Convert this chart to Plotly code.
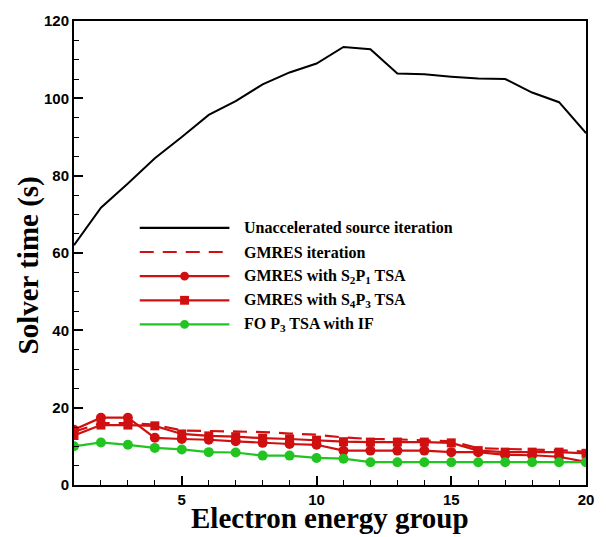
import plotly.graph_objects as go

groups = list(range(1, 21))
unaccelerated = [62.0, 71.7, 78.0, 84.5, 90.0, 95.7, 99.3, 103.6, 106.7, 109.0,
                 113.3, 112.7, 106.4, 106.2, 105.6, 105.1, 105.0, 101.5, 99.0, 91.0]
gmres_iter = [13.8, 16.0, 16.0, 15.6, 14.1, 14.0, 13.9, 13.7, 13.3, 13.0,
              12.3, 11.9, 11.8, 11.6, 11.3, 9.5, 9.3, 9.2, 9.0, 8.6]
gmres_s2p1 = [14.3, 17.4, 17.4, 12.2, 11.9, 11.7, 11.3, 10.9, 10.6, 10.4,
              8.9, 8.9, 8.9, 8.9, 8.5, 8.5, 7.8, 7.7, 7.3, 6.0]
gmres_s4p3 = [12.8, 15.5, 15.5, 15.3, 13.2, 12.7, 12.5, 12.1, 11.9, 11.6,
              11.2, 11.1, 11.1, 11.1, 10.9, 8.9, 8.5, 8.5, 8.5, 8.2]
fo_p3_if = [10.0, 11.0, 10.4, 9.6, 9.2, 8.5, 8.4, 7.6, 7.6, 7.0,
            6.8, 5.9, 5.9, 5.9, 5.9, 5.9, 5.9, 5.9, 5.9, 5.9]

legend_labels = ["Unaccelerated source iteration",
                 "GMRES iteration",
                 "GMRES with S<sub>2</sub>P<sub>1</sub> TSA",
                 "GMRES with S<sub>4</sub>P<sub>3</sub> TSA",
                 "FO P<sub>3</sub> TSA with IF"]

RED = "#d01010"
GREEN = "#22c422"
BLACK = "#000000"

W, H = 606, 537
L, R, T, B = 74, 18, 14, 52
PW, PH = W - L - R, H - T - B


def px(x):
    return (x - L) / PW


def py(y):
    return (H - B - y) / PH


fig = go.Figure()
fig.add_trace(go.Scatter(x=groups, y=unaccelerated, mode="lines",
                         line=dict(color=BLACK, width=2), showlegend=False))
fig.add_trace(go.Scatter(x=groups, y=gmres_iter, mode="lines",
                         line=dict(color=RED, width=2.2, dash="14px,9px"), showlegend=False))
fig.add_trace(go.Scatter(x=groups, y=gmres_s2p1, mode="lines+markers",
                         line=dict(color=RED, width=2.2),
                         marker=dict(symbol="circle", size=10, color=RED), showlegend=False))
fig.add_trace(go.Scatter(x=groups, y=gmres_s4p3, mode="lines+markers",
                         line=dict(color=RED, width=2.2),
                         marker=dict(symbol="square", size=9, color=RED), showlegend=False))
fig.add_trace(go.Scatter(x=groups, y=fo_p3_if, mode="lines+markers",
                         line=dict(color=GREEN, width=2.2),
                         marker=dict(symbol="circle", size=10, color=GREEN), showlegend=False))

# manual legend
rows_y = [224, 248.5, 273, 297.5, 322]
styles = [(BLACK, "solid", None), (RED, "dash", None), (RED, "solid", "circle"),
          (RED, "solid", "square"), (GREEN, "solid", "circle")]
shapes = []
annotations = []
for ry, (col, dash, mk), lab in zip(rows_y, styles, legend_labels):
    shapes.append(dict(type="line", xref="paper", yref="paper",
                       x0=px(140), x1=px(230), y0=py(ry), y1=py(ry),
                       line=dict(color=col, width=2.2, dash="14px,9px" if dash == "dash" else "solid")))
    if mk:
        r = 4.5
        shapes.append(dict(type="circle" if mk == "circle" else "rect",
                           xref="paper", yref="paper",
                           x0=px(185 - r), x1=px(185 + r), y0=py(ry + r), y1=py(ry - r),
                           fillcolor=col, line=dict(color=col, width=0)))
    annotations.append(dict(text=lab, xref="paper", yref="paper", x=px(243), y=py(ry),
                            xanchor="left", yanchor="middle", showarrow=False,
                            font=dict(family="Liberation Serif", size=16, color="black", weight="bold")))

annotations.append(dict(text="Electron energy group", xref="paper", yref="paper",
                        x=px(331), y=py(519), xanchor="center", yanchor="middle", showarrow=False,
                        font=dict(family="Liberation Serif", size=29, color="black", weight="bold")))
annotations.append(dict(text="Solver time (s)", xref="paper", yref="paper",
                        x=px(28), y=py(262), xanchor="center", yanchor="middle", showarrow=False,
                        textangle=-90,
                        font=dict(family="Liberation Serif", size=29, color="black", weight="bold")))

tickfont = dict(family="Liberation Sans", size=15, color="black", weight="bold")
fig.update_layout(
    width=W, height=H,
    margin=dict(l=L, r=R, t=T, b=B),
    paper_bgcolor="white", plot_bgcolor="white",
    shapes=shapes, annotations=annotations,
    showlegend=False,
    xaxis=dict(range=[1, 20], tickvals=[5, 10, 15, 20], ticks="inside", ticklen=9, tickwidth=2,
               tickcolor="black", showgrid=False, zeroline=False, showline=True, linewidth=2,
               linecolor="black", mirror=True, tickfont=tickfont,
               minor=dict(dtick=1, tick0=1, ticks="inside", ticklen=5, tickwidth=1, tickcolor="black")),
    yaxis=dict(range=[0, 120], dtick=20, ticks="inside", ticklen=9, tickwidth=2,
               tickcolor="black", showgrid=False, zeroline=False, showline=True, linewidth=2,
               linecolor="black", mirror=True, tickfont=tickfont,
               minor=dict(dtick=5, ticks="inside", ticklen=5, tickwidth=1, tickcolor="black")),
)

fig.write_html("out.html", config={"displayModeBar": False},
               post_script="document.body.style.margin='0';document.body.style.overflow='hidden';")
